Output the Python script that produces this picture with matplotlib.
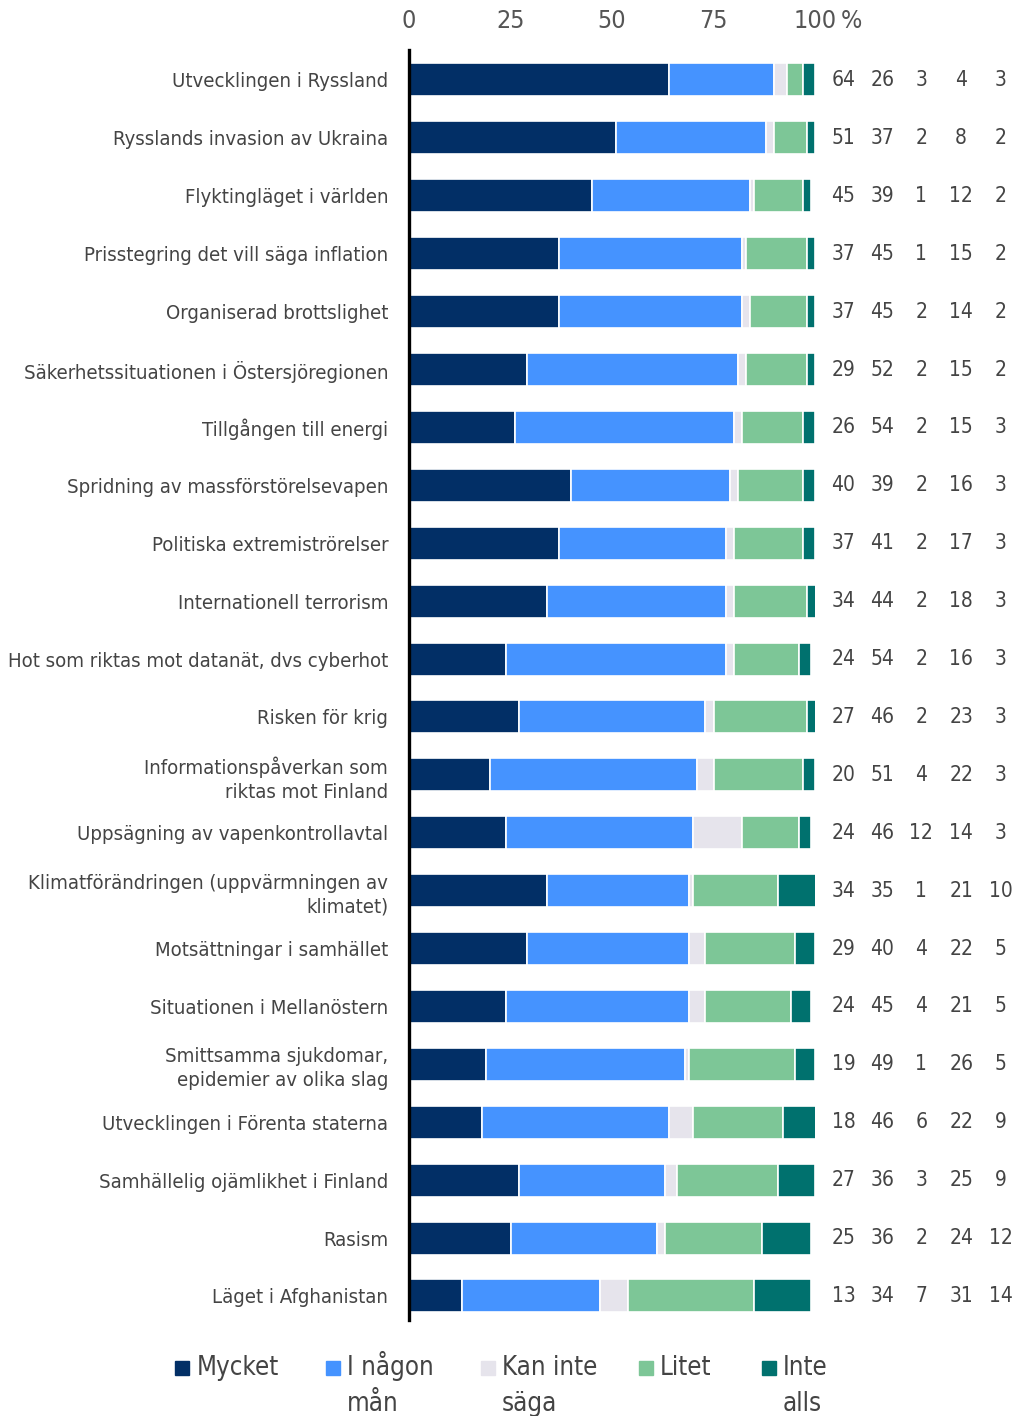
import numpy as np
import matplotlib.pyplot as plt
from matplotlib.patches import Rectangle

plt.rcParams['font.family'] = ['DejaVu Sans']
plt.rcParams['font.stretch'] = 'condensed'

categories = [
    "Utvecklingen i Ryssland",
    "Rysslands invasion av Ukraina",
    "Flyktingläget i världen",
    "Prisstegring det vill säga inflation",
    "Organiserad brottslighet",
    "Säkerhetssituationen i Östersjöregionen",
    "Tillgången till energi",
    "Spridning av massförstörelsevapen",
    "Politiska extremiströrelser",
    "Internationell terrorism",
    "Hot som riktas mot datanät, dvs cyberhot",
    "Risken för krig",
    "Informationspåverkan som\nriktas mot Finland",
    "Uppsägning av vapenkontrollavtal",
    "Klimatförändringen (uppvärmningen av\nklimatet)",
    "Motsättningar i samhället",
    "Situationen i Mellanöstern",
    "Smittsamma sjukdomar,\nepidemier av olika slag",
    "Utvecklingen i Förenta staterna",
    "Samhällelig ojämlikhet i Finland",
    "Rasism",
    "Läget i Afghanistan",
]

mycket = [64, 51, 45, 37, 37, 29, 26, 40, 37, 34, 24, 27, 20, 24, 34, 29, 24, 19, 18, 27, 25, 13]
nagon = [26, 37, 39, 45, 45, 52, 54, 39, 41, 44, 54, 46, 51, 46, 35, 40, 45, 49, 46, 36, 36, 34]
kan_inte = [3, 2, 1, 1, 2, 2, 2, 2, 2, 2, 2, 2, 4, 12, 1, 4, 4, 1, 6, 3, 2, 7]
litet = [4, 8, 12, 15, 14, 15, 15, 16, 17, 18, 16, 23, 22, 14, 21, 22, 21, 26, 22, 25, 24, 31]
inte_alls = [3, 2, 2, 2, 2, 2, 3, 3, 3, 3, 3, 3, 3, 3, 10, 5, 5, 5, 9, 9, 12, 14]

series = [mycket, nagon, kan_inte, litet, inte_alls]
legend_labels = [["Mycket"], ["I någon", "mån"], ["Kan inte", "säga"], ["Litet"], ["Inte", "alls"]]
colors = ["#022f66", "#4593ff", "#e6e4ec", "#7dc697", "#00716e"]
ticks = [0, 25, 50, 75, 100]

W, H = 1019, 1416
fig = plt.figure(figsize=(W / 100, H / 100), dpi=100)
ax = fig.add_axes([409 / W, 1 - 1320 / H, (815 - 409) / W, 1270 / H])

y = np.arange(len(categories))
left = np.zeros(len(categories))
for vals, col in zip(series, colors):
    ax.barh(y, vals, left=left, height=0.57, color=col, edgecolor="white", linewidth=1.2)
    left += np.array(vals)

ax.set_xlim(0, 100)
ax.set_ylim(21.415, -0.518)
ax.set_yticks(y)
ax.set_yticklabels(categories, fontsize=14.6, color="#444444", linespacing=1.3)
ax.tick_params(axis="y", length=0, pad=15)

ax.xaxis.tick_top()
ax.set_xticks(ticks)
ax.set_xticklabels([str(t) for t in ticks], fontsize=18, color="#555555")
ax.tick_params(axis="x", length=0, pad=12)
fig.text(841 / W, 1 - 21 / H, "%", fontsize=18, color="#555555", ha="left", va="center")

for s in ["top", "right", "bottom"]:
    ax.spines[s].set_visible(False)
ax.spines["left"].set_linewidth(2.4)
ax.spines["left"].set_color("black")

# value columns to the right of the bars
col_x = [107, 116.6, 126.2, 136, 145.8]
for i in range(len(categories)):
    for cx, vals in zip(col_x, series):
        ax.text(cx, i, str(vals[i]), ha="center", va="center", fontsize=15,
                color="#444444", clip_on=False)

# legend drawn by hand along the bottom, one text per line
leg_sq = [182, 333, 488, 646, 769]
leg_tx = [197, 347, 502, 660, 783]
for sq, tx, lines, col in zip(leg_sq, leg_tx, legend_labels, colors):
    fig.patches.append(Rectangle(((sq - 7) / W, 1 - 1375 / H), 14 / W, 14 / H,
                                 transform=fig.transFigure, color=col))
    for k, line in enumerate(lines):
        fig.text(tx / W, 1 - (1375 + 36 * k) / H, line, fontsize=18.5,
                 color="#444444", ha="left", va="baseline")

fig.savefig("out.png", dpi=100)
